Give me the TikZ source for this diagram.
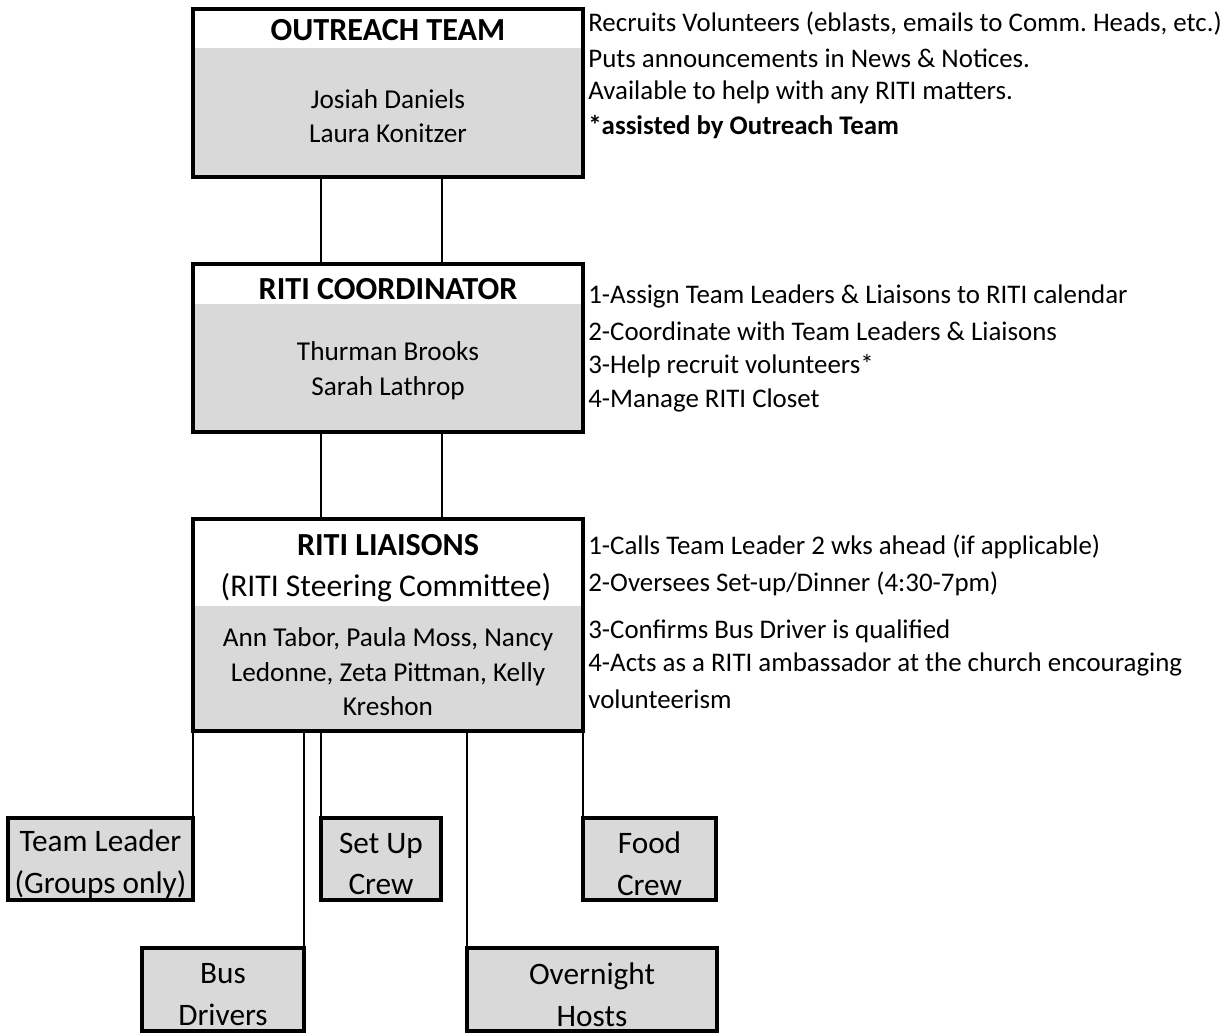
\documentclass[tikz,border=0pt]{standalone}
\usepackage{fontspec}
\setmainfont{Carlito}
\usetikzlibrary{positioning}
\definecolor{boxgray}{HTML}{D9D9D9}
\tikzset{
  orgbox/.style={draw, line width=2.3pt, fill=boxgray, inner sep=0pt, outer sep=0pt},
  headband/.style={path picture={\fill[white] (path picture bounding box.north west) rectangle ([yshift=-#1]path picture bounding box.north east);}},
  crewbox/.style={orgbox, minimum height=1.64cm},
  crewtext/.style={inner sep=0pt, align=center, font=\fontsize{17.8}{23.8}\selectfont},
  link/.style={line width=1.1pt},
  headtext/.style={inner sep=0pt, font=\fontsize{18.3}{22}\bfseries\selectfont},
  nametext/.style={inner sep=0pt, align=center, font=\fontsize{15.5}{19.3}\selectfont},
  duty/.style={anchor=west, inner sep=0pt, font=\fontsize{15.3}{18}\selectfont}
}
\begin{document}
\begin{tikzpicture}[x=0.02cm, y=-0.02cm]
  \useasboundingbox (0,0) rectangle (1227,1034);

  % Drawing the three main boxes
  \node [orgbox, headband=0.78cm, minimum width=7.8cm, minimum height=3.36cm] (outreach) at (388,93) {};
  \node [orgbox, headband=0.8cm, minimum width=7.8cm, minimum height=3.36cm] (coord) at (388,348) {};
  \node [orgbox, headband=1.74cm, minimum width=7.8cm, minimum height=4.24cm] (liaisons) at (388,625) {};

  % Box titles and names
  \node [headtext] (outreachtitle) at (388,30) {OUTREACH TEAM};
  \node [nametext] (outreachnames) at (388,116) {Josiah Daniels\\Laura Konitzer};
  \node [headtext] (coordtitle) at (388,289) {RITI COORDINATOR};
  \node [nametext, font=\fontsize{15.5}{19.8}\selectfont] (coordnames) at (388,371) {Thurman Brooks\\Sarah Lathrop};
  \node [headtext] (liaisonstitle) at (388,545) {RITI LIAISONS};
  \node [inner sep=0pt, font=\fontsize{18}{22}\selectfont] (steering) at (386,588) {(RITI Steering Committee)};
  \node [nametext, font=\fontsize{15.5}{19.6}\selectfont] (liaisonsnames) at (388,672) {Ann Tabor, Paula Moss, Nancy\\Ledonne, Zeta Pittman, Kelly\\Kreshon};

  % Drawing the crew boxes
  \node [crewbox, minimum width=3.7cm] (teamlead) at (100.5,859) {};
  \node [crewbox, minimum width=2.4cm] (setup) at (381,859) {};
  \node [crewbox, minimum width=2.66cm] (food) at (649.5,859) {};
  \node [crewbox, minimum width=3.24cm, minimum height=1.66cm] (bus) at (223,989.5) {};
  \node [crewbox, minimum width=5cm, minimum height=1.66cm] (overnight) at (592,989.5) {};
  \node [crewtext] (teamleadtext) at ([yshift=-0.1cm]teamlead.center) {Team Leader\\(Groups only)};
  \node [crewtext] (setuptext) at ([yshift=-0.1cm]setup.center) {Set Up\\Crew};
  \node [crewtext] (foodtext) at ([yshift=-0.1cm]food.center) {Food\\Crew};
  \node [crewtext] (bustext) at ([yshift=-0.1cm]bus.center) {Bus\\Drivers};
  \node [crewtext] (overnighttext) at ([yshift=-0.1cm]overnight.center) {Overnight\\Hosts};

  % Drawing links between the main boxes
  \coordinate (linkL) at (321,0);
  \coordinate (linkR) at (442,0);
  \draw [link] (outreach.south -| linkL) -- (coord.north -| linkL);
  \draw [link] (outreach.south -| linkR) -- (coord.north -| linkR);
  \draw [link] (coord.south -| linkL) -- (liaisons.north -| linkL);
  \draw [link] (coord.south -| linkR) -- (liaisons.north -| linkR);

  % Drawing links to the crews
  \draw [link] (liaisons.south -| teamlead.north east) -- (teamlead.north east);
  \draw [link] (liaisons.south -| bus.north east) -- (bus.north east);
  \draw [link] (liaisons.south -| setup.north west) -- (setup.north west);
  \draw [link] (liaisons.south -| overnight.north west) -- (overnight.north west);
  \draw [link] (liaisons.south -| food.north west) -- (food.north west);

  % Duties of the outreach team
  \node [duty] (out1) at (588,24) {Recruits Volunteers (eblasts, emails to Comm.\ Heads, etc.)};
  \node [duty] (out2) at (588,58) {Puts announcements in News \& Notices.};
  \node [duty] (out3) at (588,92) {Available to help with any RITI matters.};
  \node [duty, font=\fontsize{15.3}{18}\bfseries\selectfont] (out4) at (588,127) {*assisted by Outreach Team};

  % Duties of the coordinator
  \node [duty] (coord1) at (588,296) {1-Assign Team Leaders \& Liaisons to RITI calendar};
  \node [duty] (coord2) at (588,331) {2-Coordinate with Team Leaders \& Liaisons};
  \node [duty] (coord3) at (588,366) {3-Help recruit volunteers*};
  \node [duty] (coord4) at (588,400) {4-Manage RITI Closet};

  % Duties of the liaisons
  \node [duty] (liaison1) at (588,547) {1-Calls Team Leader 2 wks ahead (if applicable)};
  \node [duty] (liaison2) at (588,584) {2-Oversees Set-up/Dinner (4:30-7pm)};
  \node [duty] (liaison3) at (588,631) {3-Confirms Bus Driver is qualified};
  \node [duty] (liaison4) at (588,664) {4-Acts as a RITI ambassador at the church encouraging};
  \node [duty] (liaison5) at (588,699) {volunteerism};
\end{tikzpicture}
\end{document}
